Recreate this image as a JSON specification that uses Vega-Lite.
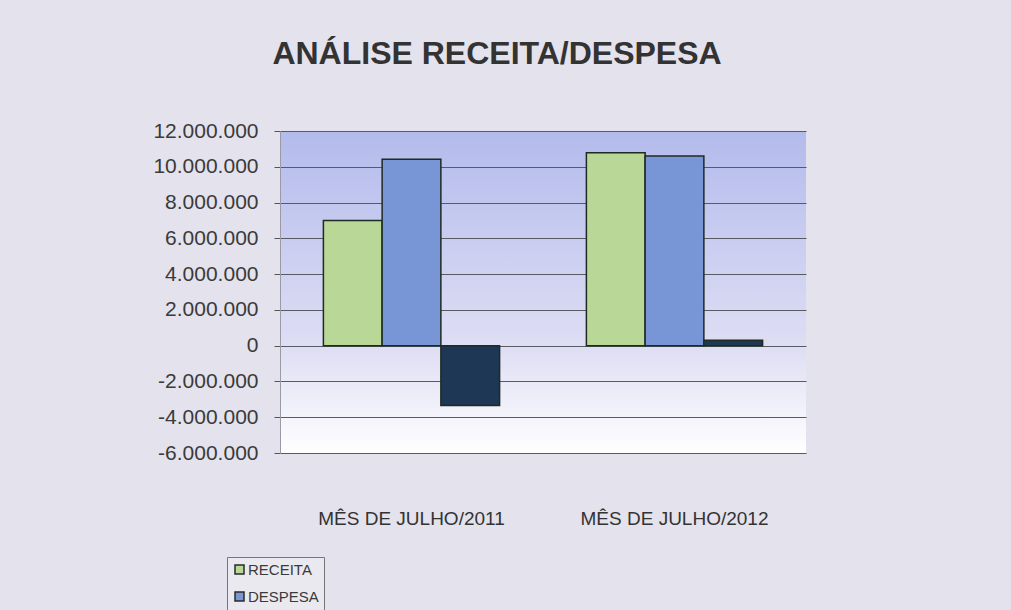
{
  "$schema": "https://vega.github.io/schema/vega-lite/v6.json",
  "autosize": {"type": "none"},
  "width": 526,
  "height": 322,
  "padding": {"left": 280, "top": 131, "right": 205, "bottom": 157},
  "background": "#e4e2ec",
  "config": {
    "locale": {"number": {"decimal": ",", "thousands": ".", "grouping": [3], "currency": ["R$", ""], "minus": "-"}},
    "font": "Liberation Sans",
    "view": {
      "stroke": null,
      "fill": {
        "gradient": "linear", "x1": 0, "y1": 0, "x2": 0, "y2": 1,
        "stops": [
          {"offset": 0, "color": "#b3bbec"},
          {"offset": 0.67, "color": "#dedef4"},
          {"offset": 1, "color": "#ffffff"}
        ]
      }
    }
  },
  "title": {
    "text": "ANÁLISE RECEITA/DESPESA",
    "fontSize": 32,
    "fontWeight": "bold",
    "color": "#333333",
    "anchor": "middle",
    "frame": "group",
    "dx": -46,
    "offset": 49
  },
  "data": {
    "values": [
      {"mes": "MÊS DE JULHO/2011", "serie": "RECEITA", "valor": 7000000},
      {"mes": "MÊS DE JULHO/2011", "serie": "DESPESA", "valor": 10420000},
      {"mes": "MÊS DE JULHO/2011", "serie": "SALDO", "valor": -3350000},
      {"mes": "MÊS DE JULHO/2012", "serie": "RECEITA", "valor": 10790000},
      {"mes": "MÊS DE JULHO/2012", "serie": "DESPESA", "valor": 10600000},
      {"mes": "MÊS DE JULHO/2012", "serie": "SALDO", "valor": 300000}
    ]
  },
  "mark": {"type": "bar", "stroke": "#1f2a22", "strokeWidth": 1.5},
  "encoding": {
    "x": {
      "field": "mes", "type": "nominal", "title": null,
      "scale": {"paddingInner": 0.33, "paddingOuter": 0.165},
      "axis": {
        "labelAngle": 0, "domain": false, "ticks": false, "grid": false,
        "labelLimit": 0,
        "labelFontSize": 19, "labelColor": "#333333", "labelPadding": 56
      }
    },
    "xOffset": {
      "field": "serie", "type": "nominal",
      "sort": ["RECEITA", "DESPESA", "SALDO"],
      "scale": {"paddingInner": 0, "paddingOuter": 0}
    },
    "y": {
      "field": "valor", "type": "quantitative", "title": null,
      "scale": {"domain": [-6000000, 12000000], "nice": false, "zero": false},
      "axis": {
        "values": [-6000000, -4000000, -2000000, 0, 2000000, 4000000, 6000000, 8000000, 10000000, 12000000],
        "format": ",d",
        "labelFontSize": 21, "labelColor": "#3a3a3a", "labelPadding": 16,
        "tickSize": 6, "tickColor": "#555555",
        "domain": true, "domainColor": "#9a9aa6",
        "grid": true, "gridColor": "#5a5a62", "gridWidth": 1, "gridOpacity": 1
      }
    },
    "color": {
      "field": "serie", "type": "nominal",
      "sort": ["RECEITA", "DESPESA", "SALDO"],
      "scale": {"domain": ["RECEITA", "DESPESA", "SALDO"], "range": ["#b9d796", "#7896d6", "#1e3755"]},
      "legend": {
        "title": null,
        "values": ["RECEITA", "DESPESA"],
        "orient": "none",
        "legendX": -53,
        "legendY": 426,
        "padding": 5,
        "strokeColor": "#777777",
        "fillColor": "#ebe9f0",
        "symbolType": "square",
        "symbolSize": 81,
        "symbolStrokeColor": "#2a2a2a",
        "symbolStrokeWidth": 1.5,
        "labelFontSize": 15,
        "labelColor": "#3a3a3a",
        "labelOffset": 1,
        "rowPadding": 11
      }
    }
  }
}
